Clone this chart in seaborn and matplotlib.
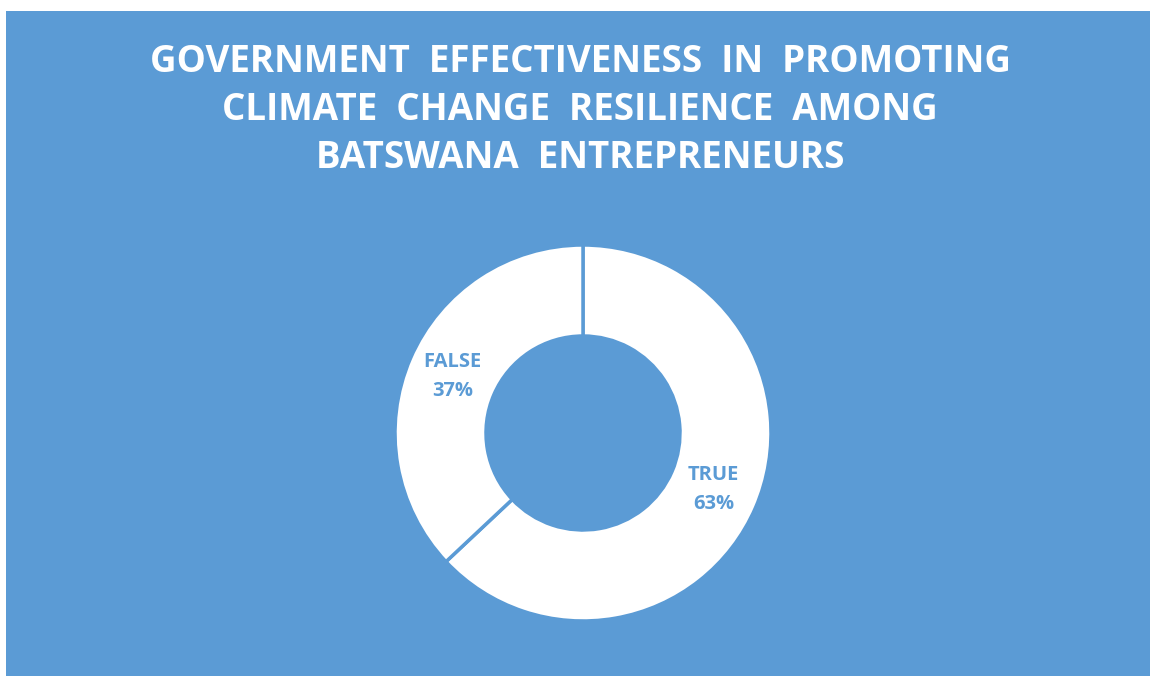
import matplotlib
matplotlib.use("Agg")
import matplotlib.pyplot as plt
import seaborn as sns
from matplotlib.patches import Rectangle

categories = ["TRUE", "FALSE"]
shares = [63, 37]
title_lines = [
    "GOVERNMENT EFFECTIVENESS IN PROMOTING",
    "CLIMATE CHANGE RESILIENCE AMONG",
    "BATSWANA ENTREPRENEURS",
]

BLUE = "#5B9BD5"
W, H = 1152, 677

sns.set_style("white")
plt.rcParams["font.family"] = ["Open Sans", "DejaVu Sans"]

fig = plt.figure(figsize=(W / 100, H / 100), dpi=100)
fig.patch.set_facecolor("white")
fig.patches.append(Rectangle((6 / W, 1 / H), 1144 / W, 665 / H,
                             transform=fig.transFigure, facecolor=BLUE,
                             edgecolor="none", zorder=-5))

# title
for i, line in enumerate(title_lines):
    fig.text(580 / W, 1 - (72 + 48 * i) / H, line.replace(" ", "  "),
             ha="center", va="baseline", color="white", fontsize=26.5,
             fontweight="bold")

cx, cy, r = 583, 433, 188
ax = fig.add_axes([(cx - r) / W, (H - cy - r) / H, 2 * r / W, 2 * r / H])
ax.set_zorder(2)
ax.set_facecolor("none")
labels = [f"{c}\n{v}%" for c, v in zip(categories, shares)]
wedges, texts = ax.pie(shares, labels=labels, startangle=90, counterclock=False,
                       colors=["white", "white"], radius=1,
                       labeldistance=0.758,
                       wedgeprops=dict(width=1 - 97 / 188, edgecolor=BLUE,
                                       linewidth=2.5))
for t in texts:
    t.set_ha("center")
    t.set_va("center")
    t.set_color(BLUE)
    t.set_fontweight("bold")
    t.set_fontsize(14.5)
    t.set_linespacing(1.55)
ax.set_xlim(-1, 1)
ax.set_ylim(-1, 1)
ax.set_aspect("equal")
ax.axis("off")

fig.savefig("out.png", dpi=100, facecolor=fig.get_facecolor())
